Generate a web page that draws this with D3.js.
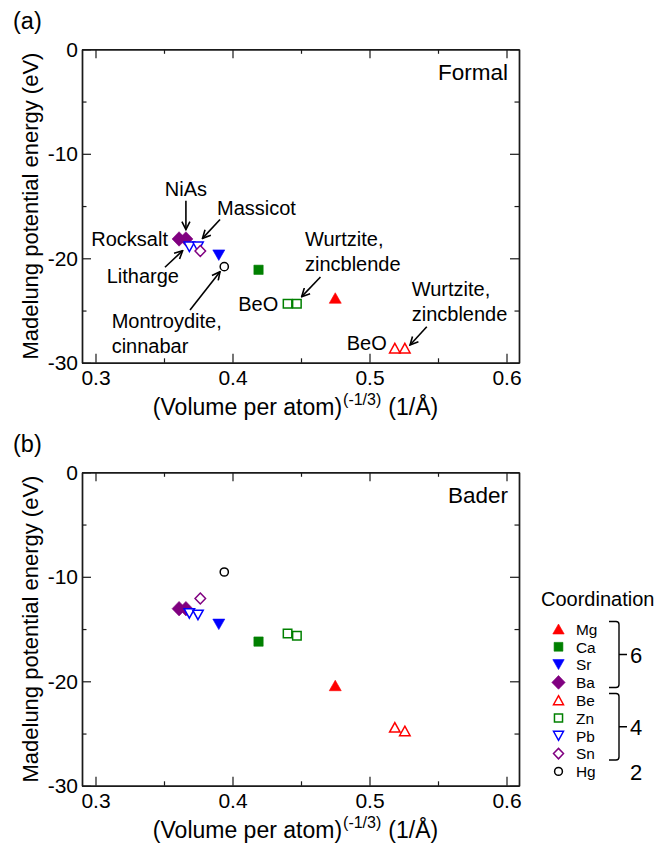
<!DOCTYPE html>
<html><head><meta charset="utf-8">
<script src="https://cdn.jsdelivr.net/npm/d3@7"></script>
<style>
body{margin:0;background:#fff}
svg{display:block}
text{font-family:"Liberation Sans",Arial,Helvetica,sans-serif;fill:#000}
</style>
</head><body>
<svg id="c" width="669" height="845"></svg>
<script>
// ---------------- data ----------------
const species = ["Mg","Ca","Sr","Ba","Be","Zn","Pb","Sn","Hg"];
const coordination = [6,6,6,6,4,4,4,4,2];
const pointSpecies = ["Mg","Ca","Sr","Ba","Ba","Be","Be","Zn","Zn","Pb","Pb","Sn","Hg"];
const pointX      = [0.475,0.419,0.390,0.361,0.366,0.5185,0.5258,0.4402,0.4470,0.3685,0.3748,0.3765,0.394];
const formalY     = [-23.8,-21.1,-19.7,-18.15,-18.15,-28.6,-28.6,-24.35,-24.35,-18.9,-18.9,-19.3,-20.8];
const baderY      = [-20.4,-16.2,-14.55,-13.05,-13.05,-24.4,-24.75,-15.43,-15.63,-13.5,-13.65,-12.08,-9.54];
const xTicks = [0.3,0.4,0.5,0.6];
const xMinorTicks = [0.35,0.45,0.55];
const yTicks = [0,-10,-20,-30];
const yMinorTicks = [-5,-15,-25];
const panelLabels = ["(a)","(b)"];
const panelNames = ["Formal","Bader"];
const yTitle = "Madelung potential energy (eV)";

// annotation texts (panel a) with anchor positions in data units
const annLines = [["NiAs"],["Massicot"],["Rocksalt"],["Litharge"],["Montroydite,","cinnabar"],["BeO"],["Wurtzite,","zincblende"],["Wurtzite,","zincblende"],["BeO"]];
const annX = [0.366,0.3887,0.3529,0.3082,0.3118,0.4334,0.4529,0.5308,0.5126];
const annY = [-14.04,-15.86,-18.87,-22.36,-26.67,-25.09,-18.87,-23.61,-28.77];
const annAnchor = ["middle","start","end","start","start","end","start","start","end"];
// arrows [x1,y1,x2,y2] in data units
const arrows = [
  [0.366,-14.5,0.366,-17.25],
  [0.3909,-16.29,0.3781,-18.09],
  [0.3507,-20.86,0.3636,-19.27],
  [0.369,-24.95,0.3909,-21.28],
  [0.4642,-21.79,0.4505,-23.67],
  [0.5418,-26.55,0.5296,-28.3]
];

// ---------------- styles ----------------
const style = {
  Mg:{shape:"triUp",   color:"#ff0000", fill:true},
  Ca:{shape:"square",  color:"#008000", fill:true},
  Sr:{shape:"triDown", color:"#0000ff", fill:true},
  Ba:{shape:"diamond", color:"#800080", fill:true},
  Be:{shape:"triUp",   color:"#ff0000", fill:false},
  Zn:{shape:"square",  color:"#008000", fill:false},
  Pb:{shape:"triDown", color:"#0000ff", fill:false},
  Sn:{shape:"diamond", color:"#800080", fill:false},
  Hg:{shape:"circle",  color:"#000000", fill:false}
};
function shapePath(shape, filled, k){
  k = k||1;
  switch(shape){
    case "triUp": { const w=(filled?12:10.5)*k, h=(filled?10.5:9.5)*k;
      return `M0,${-h/2}L${w/2},${h/2}L${-w/2},${h/2}Z`; }
    case "triDown": { const w=(filled?12:10.5)*k, h=(filled?10.5:9.5)*k;
      return `M0,${h/2}L${w/2},${-h/2}L${-w/2},${-h/2}Z`; }
    case "square": { const s=(filled?9.3:8.5)*k;
      return `M${-s/2},${-s/2}h${s}v${s}h${-s}Z`; }
    case "diamond": { const w=(filled?14:10.5)*k, h=(filled?14.5:11)*k;
      return `M0,${-h/2}L${w/2},0L0,${h/2}L${-w/2},0Z`; }
    case "circle": { const r=4.1*k;
      return `M${r},0A${r},${r} 0 1,1 ${-r},0A${r},${r} 0 1,1 ${r},0Z`; }
  }
}
function drawMarker(g, sp, x, y, k){
  const st = style[sp];
  g.append("path").attr("d", shapePath(st.shape, st.fill, k))
    .attr("transform", `translate(${x},${y})`)
    .attr("fill", st.fill ? st.color : "#fff")
    .attr("stroke", st.color)
    .attr("stroke-width", st.fill ? 0.6 : 1.5)
    .attr("stroke-linejoin","miter");
}

// ---------------- layout ----------------
const svg = d3.select("#c");
const L = 82, R = 519, H = 313.5;
const panelTops = [49.3, 472.3];
const x = d3.scaleLinear().domain([0.29015, 0.60912]).range([L, R]);

svg.append("defs").append("marker")
  .attr("id","arr").attr("viewBox","0 0 10 10").attr("refX",9).attr("refY",5)
  .attr("markerWidth",10).attr("markerHeight",10).attr("markerUnits","userSpaceOnUse")
  .attr("orient","auto")
  .append("path").attr("d","M1,1L9,5L1,9").attr("fill","none").attr("stroke","#000").attr("stroke-width",1.6);

panelTops.forEach((top, pi) => {
  const y = d3.scaleLinear().domain([-30, 0]).range([top + H, top]);
  const g = svg.append("g");
  const axisColor = "#1a1a1a";
  const sw = 1.4;

  const bottom = g.append("g").attr("transform",`translate(0,${top+H})`)
    .call(d3.axisBottom(x).tickValues(xTicks).tickFormat(d3.format(".1f")).tickSizeInner(-9).tickSizeOuter(0).tickPadding(7));
  const bottomMinor = g.append("g").attr("transform",`translate(0,${top+H})`)
    .call(d3.axisBottom(x).tickValues(xMinorTicks).tickFormat("").tickSizeInner(-4.5).tickSizeOuter(0));
  const topAx = g.append("g").attr("transform",`translate(0,${top})`)
    .call(d3.axisTop(x).tickValues(xTicks).tickFormat("").tickSizeInner(-9).tickSizeOuter(0));
  const topMinor = g.append("g").attr("transform",`translate(0,${top})`)
    .call(d3.axisTop(x).tickValues(xMinorTicks).tickFormat("").tickSizeInner(-4.5).tickSizeOuter(0));
  const left = g.append("g").attr("transform",`translate(${L},0)`)
    .call(d3.axisLeft(y).tickValues(yTicks).tickFormat(d3.format("d")).tickSizeInner(-9).tickSizeOuter(0).tickPadding(4));
  const leftMinor = g.append("g").attr("transform",`translate(${L},0)`)
    .call(d3.axisLeft(y).tickValues(yMinorTicks).tickFormat("").tickSizeInner(-4.5).tickSizeOuter(0));
  const right = g.append("g").attr("transform",`translate(${R},0)`)
    .call(d3.axisRight(y).tickValues(yTicks).tickFormat("").tickSizeInner(-9).tickSizeOuter(0));
  const rightMinor = g.append("g").attr("transform",`translate(${R},0)`)
    .call(d3.axisRight(y).tickValues(yMinorTicks).tickFormat("").tickSizeInner(-4.5).tickSizeOuter(0));
  [bottom,bottomMinor,topAx,topMinor,left,leftMinor,right,rightMinor].forEach(a=>{
    a.selectAll("path.domain").attr("stroke",axisColor).attr("stroke-width",sw);
    a.selectAll(".tick line").attr("stroke",axisColor).attr("stroke-width",1.2);
    a.selectAll("text").attr("font-size",21).attr("font-family",'"Liberation Sans",Arial,sans-serif').attr("fill","#000");
  });
  left.selectAll("text").text(d => d === 0 ? "0" : String(d).replace("−","-"));

  g.append("text").attr("x",13).attr("y",top-20).attr("font-size",23.5).text(panelLabels[pi]);
  g.append("text").attr("x",508).attr("y",top+31).attr("text-anchor","end").attr("font-size",22.5).text(panelNames[pi]);

  g.append("text").attr("transform",`translate(38,${top+H/2}) rotate(-90)`)
    .attr("text-anchor","middle").attr("font-size",22).text(yTitle);
  const xt = g.append("text").attr("x",(L+R)/2 - 5).attr("y",top+H+52).attr("text-anchor","middle").attr("font-size",23);
  xt.append("tspan").text("(Volume per atom)");
  xt.append("tspan").attr("font-size",16).attr("dy",-10).attr("dx",1).text("(-1/3)");
  xt.append("tspan").attr("dy",10).attr("dx",7).text("(1/Å)");

  const ys = pi === 0 ? formalY : baderY;
  const pg = g.append("g");
  species.forEach(sp => {
    pointSpecies.forEach((s,i) => {
      if (s === sp) drawMarker(pg, sp, x(pointX[i]), y(ys[i]), 1);
    });
  });

  if (pi === 0) {
    annLines.forEach((lines, i) => {
      const t = g.append("text").attr("text-anchor", annAnchor[i]).attr("font-size",20);
      lines.forEach((ln, j) => {
        t.append("tspan").attr("x", x(annX[i])).attr("y", y(annY[i]) + j*24.5).text(ln);
      });
    });
    arrows.forEach(a => {
      g.append("line").attr("x1",x(a[0])).attr("y1",y(a[1])).attr("x2",x(a[2])).attr("y2",y(a[3]))
        .attr("stroke","#000").attr("stroke-width",1.6).attr("marker-end","url(#arr)");
    });
  }
});

// ---------------- legend ----------------
const lg = svg.append("g");
lg.append("text").attr("x",541).attr("y",606).attr("font-size",20).text("Coordination");
const rowY0 = 629, rowStep = 17.8;
species.forEach((sp,i) => {
  const cy = rowY0 + i*rowStep;
  drawMarker(lg, sp, 558.5, cy, 0.95);
  lg.append("text").attr("x",576).attr("y",cy+5.8).attr("font-size",15.4).text(sp);
});
function brace(y1, y2){
  const xv = 619, xl = 609, xm = 627, ym = (y1+y2)/2;
  return `M${xl},${y1}H${xv-3}Q${xv},${y1} ${xv},${y1+3}V${ym}H${xm}M${xv},${ym}V${y2-3}Q${xv},${y2} ${xv-3},${y2}H${xl}`;
}
const groups = [[6, 621.5, 687.5],[4, 693.5, 760]];
groups.forEach(gr => {
  lg.append("path").attr("d", brace(gr[1], gr[2])).attr("fill","none").attr("stroke","#000").attr("stroke-width",1.4);
  lg.append("text").attr("x",630).attr("y",(gr[1]+gr[2])/2+8).attr("font-size",22).text(gr[0]);
});
lg.append("text").attr("x",630).attr("y",rowY0 + 8*rowStep + 8.5).attr("font-size",22).text(coordination[8]);
</script>
</body></html>
